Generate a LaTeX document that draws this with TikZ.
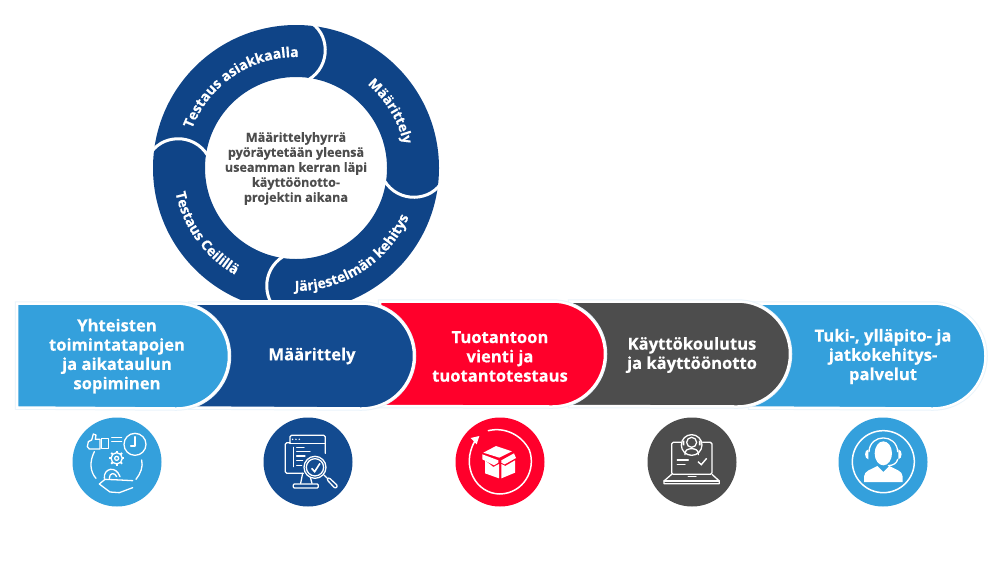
\documentclass[tikz,border=0pt]{standalone}
\usepackage{fontspec}
\setmainfont{Open Sans}
\usetikzlibrary{decorations.text,arrows.meta}
\definecolor{sky}{HTML}{34A0DC}
\definecolor{navy}{HTML}{134B90}
\definecolor{ringnavy}{HTML}{0F4487}
\definecolor{hot}{HTML}{FF002B}
\definecolor{slate}{HTML}{4D4D4D}
\definecolor{halo}{HTML}{EAF4FB}
\newfontfamily\obold{Open Sans}[UprightFont=* Bold,FakeBold=0.25]
\newcommand{\barpath}[4]{(#1,-#3) -- (#2-52.5,-#3) arc (90:-90:52.5 and 52.5) -- (#1,-#4) -- cycle}
\tikzset{
  bartext/.style={text=white,align=center,font=\obold\fontsize{16.6}{19.3}\selectfont,inner sep=0pt},
  ringtext/.style={text=slate,align=center,font=\obold\fontsize{12.6}{15}\selectfont,inner sep=0pt},
  iconline/.style={draw=white,line width=1.3pt,line cap=round,line join=round},
  iconfill/.style={fill=white,draw=none},
  medal/.style={circle,minimum size=89pt,inner sep=0pt,draw=none}
}
\newcommand{\ringlabel}[5]{\path[postaction={decorate,decoration={text along path,text align=center,text={|\obold\fontsize{#5}{#5}\selectfont\color{white}|#4}}}] (#1:#3) arc (#1:#2:#3);}
\begin{document}
\begin{tikzpicture}[x=1pt,y=1pt]
\useasboundingbox (0,0) rectangle (1000,-563);
\fill[white] (0,0) rectangle (1000,-563);
% ring
\begin{scope}[shift={(296,-168)}]
  \fill[ringnavy,even odd rule] (0,0) circle (143) (0,0) circle (91);
  \foreach \a in {0,-90,-180,-270}{
    \begin{scope}[rotate=\a]
      \draw[white,line width=3pt] (12,147) .. controls (34,136) and (36,102) .. (12,88);
    \end{scope}
  }
  \ringlabel{182}{66}{111}{Testaus asiakkaalla}{14}
  \ringlabel{70}{-8}{110}{Määrittely}{13.6}
  \ringlabel{-107}{-7}{123}{Järjestelmän kehitys}{14}
  \ringlabel{168}{264}{123}{Testaus Ceilillä}{14}
\end{scope}
\node[ringtext] (hub) at (296,-168.5) {Määrittelyhyrrä\\pyöräytetään yleensä\\useamman kerran läpi\\käyttöönotto-\\projektin aikana};
\fill[white] (140,-300) rectangle (450,-305);
% bars, back to front
\draw[halo,line width=4.5pt] \barpath{750}{985.5}{303.5}{407.5};
\draw[white,line width=2.5pt,fill=sky] \barpath{750}{985.5}{303.5}{407.5};
\draw[halo,line width=4.5pt] \barpath{570}{790}{301.5}{406};
\draw[white,line width=2.5pt,fill=slate] \barpath{570}{790}{301.5}{406};
\draw[halo,line width=4.5pt] \barpath{380}{605}{301.5}{406};
\draw[white,line width=2.5pt,fill=hot] \barpath{380}{605}{301.5}{406};
\draw[halo,line width=4.5pt] \barpath{190}{414}{303.5}{407.5};
\draw[white,line width=2.5pt,fill=navy] \barpath{190}{414}{303.5}{407.5};
\draw[halo,line width=4.5pt] \barpath{17}{229}{303.5}{407.5};
\draw[white,line width=2.5pt,fill=sky] \barpath{17}{229}{303.5}{407.5};
\node[bartext] (b1) at (117,-356) {Yhteisten\\toimintatapojen\\ja aikataulun\\sopiminen};
\node[bartext] (b2) at (312,-356) {Määrittely};
\node[bartext] (b3) at (500,-356.5) {Tuotantoon\\vienti ja\\tuotantotestaus};
\node[bartext] (b4) at (692,-355) {Käyttökoulutus\\ja käyttöönotto};
\node[bartext] (b5) at (883,-356.5) {Tuki-, ylläpito- ja\\jatkokehitys-\\palvelut};
% medals
\node[medal,fill=sky] (m1) at (117,-462) {};
\node[medal,fill=navy] (m2) at (308,-462) {};
\node[medal,fill=hot] (m3) at (500,-462) {};
\node[medal,fill=slate] (m4) at (692,-462) {};
\node[medal,fill=sky] (m5) at (883,-462) {};
% icon 1
\begin{scope}[shift={(60,-410)},x=0.3333pt,y=-0.3333pt]
  \draw[iconline] (85,95) -- (95,90) -- (100,72) -- (108,75) -- (106,88) -- (120,88) -- (120,117) -- (88,117) -- (82,110) -- cycle;
  \draw[iconline] (124,86) rectangle (145,116);
  \draw[iconline] (155,82) -- (185,82) (155,94) -- (185,94);
  \draw[iconline] (225,103) circle (33);
  \draw[iconline] (225,80) -- (225,108) -- (212,108);
  \draw[iconline] (170,145) circle (6) (170,145) circle (17);
  \foreach \t in {0,45,...,315}{\draw[white,line width=1.8pt] (170,145) ++(\t:17) -- ++(\t:6);}
  \draw[iconline] (103,125) .. controls (88,155) and (90,185) .. (108,205);
  \draw[iconline] (245,150) .. controls (250,170) and (242,190) .. (228,208);
  \draw[iconline] (133,205) .. controls (130,175) and (168,165) .. (180,200);
  \draw[iconline] (148,205) .. controls (148,188) and (164,186) .. (170,200);
  \draw[iconline] (118,222) -- (135,208) -- (180,210) -- (218,212);
  \draw[iconline] (118,222) -- (150,246) -- (178,248) -- (218,233);
\end{scope}
% icon 2
\begin{scope}[shift={(60,-410)},x=0.3333pt,y=-0.3333pt]
  \draw[iconline,rounded corners=1.5pt] (690,100) -- (690,76) -- (796,76) -- (796,130);
  \draw[iconline] (690,100) -- (796,100);
  \foreach \p in {698,708,718}{\fill[white] (\p,88) circle (2.5);}
  \draw[iconline,rounded corners=1.5pt] (690,98) -- (676,98) -- (676,190) -- (730,190);
  \draw[iconline] (700,112) -- (700,170);
  \draw[iconline] (710,112) -- (732,112) (710,125) -- (750,125) (710,138) -- (735,138) (710,152) -- (728,152) (710,166) -- (725,166);
  \draw[iconline] (728,190) -- (722,220) (752,205) -- (756,220);
  \draw[iconline,rounded corners=1pt] (700,234) rectangle (775,222);
  \draw[iconline] (765,172) circle (33);
  \draw[iconline] (765,172) circle (26);
  \draw[iconline] (792,195) -- (800,203);
  \draw[iconline,rounded corners=2pt] (800,208) -- (806,202) -- (834,228) -- (826,236) -- cycle;
  \draw[white,line width=1.6pt] (755,175) -- (764,185) -- (780,160);
\end{scope}
% icon 3
\begin{scope}[shift={(440,-410)},x=0.3333pt,y=-0.3333pt]
  \draw[iconline,line width=1.5pt] (145,62) .. controls (195,50) and (245,75) .. (268,120) .. controls (290,180) and (250,250) .. (180,252) .. controls (110,252) and (60,170) .. (105,92);
  \fill[white] (118,78) -- (92,84) -- (110,103) -- cycle;
  \fill[white] (130,128) -- (168,108) -- (216,124) -- (178,143) -- cycle;
  \fill[white] (127,133) -- (175,151) -- (175,158) -- (162,166) -- (127,148) -- cycle;
  \fill[white] (135,151) -- (160,171) -- (177,162) -- (177,205) -- (135,190) -- cycle;
  \fill[white] (222,130) -- (184,151) -- (184,158) -- (194,163) -- (228,144) -- cycle;
  \fill[white] (225,151) -- (196,168) -- (184,162) -- (184,205) -- (225,188) -- cycle;
\end{scope}
% icon 4
\begin{scope}[shift={(440,-410)},x=0.3333pt,y=-0.3333pt]
  \draw[iconline,rounded corners=1.5pt] (695,193) -- (695,97) -- (816,97) -- (816,193) -- cycle;
  \draw[iconline] (695,193) -- (672,213) -- (672,221) -- (838,221) -- (838,213) -- (816,193);
  \draw[iconline] (672,213) -- (838,213);
  \draw[iconline,line width=1.5pt] (745,200) -- (768,200);
  \fill[slate] (755,105) circle (33);
  \draw[iconline] (755,105) circle (31);
  \draw[iconline] (755,97) circle (15);
  \draw[iconline] (735,134) .. controls (733,120) and (745,116) .. (755,116) .. controls (765,116) and (777,120) .. (775,134);
  \fill[white] (728,92) rectangle (733,106) (777,92) rectangle (782,106);
  \draw[iconline] (712,150) -- (745,150) (712,163) -- (735,163);
  \draw[white,line width=1.4pt] (774,155) -- (784,164) -- (800,145);
\end{scope}
% icon 5
\begin{scope}[shift={(820,-410)},x=0.3333pt,y=-0.3333pt]
  \draw[iconline,line width=1.5pt] (190,155) circle (93);
  \fill[white] (190,130) ellipse (26 and 36);
  \draw[iconline] (147,125) .. controls (150,70) and (230,70) .. (233,125);
  \fill[white] (145,118) .. controls (132,120) and (132,146) .. (145,148) -- cycle;
  \fill[white] (235,118) .. controls (248,120) and (248,146) .. (235,148) -- cycle;
  \draw[iconline] (233,148) .. controls (230,160) and (220,166) .. (205,167);
  \fill[white] (132,216) -- (132,200) .. controls (132,182) and (155,178) .. (172,168) -- (190,186) -- (208,168) .. controls (225,178) and (248,182) .. (248,200) -- (248,216) -- cycle;
\end{scope}
\end{tikzpicture}
\end{document}
